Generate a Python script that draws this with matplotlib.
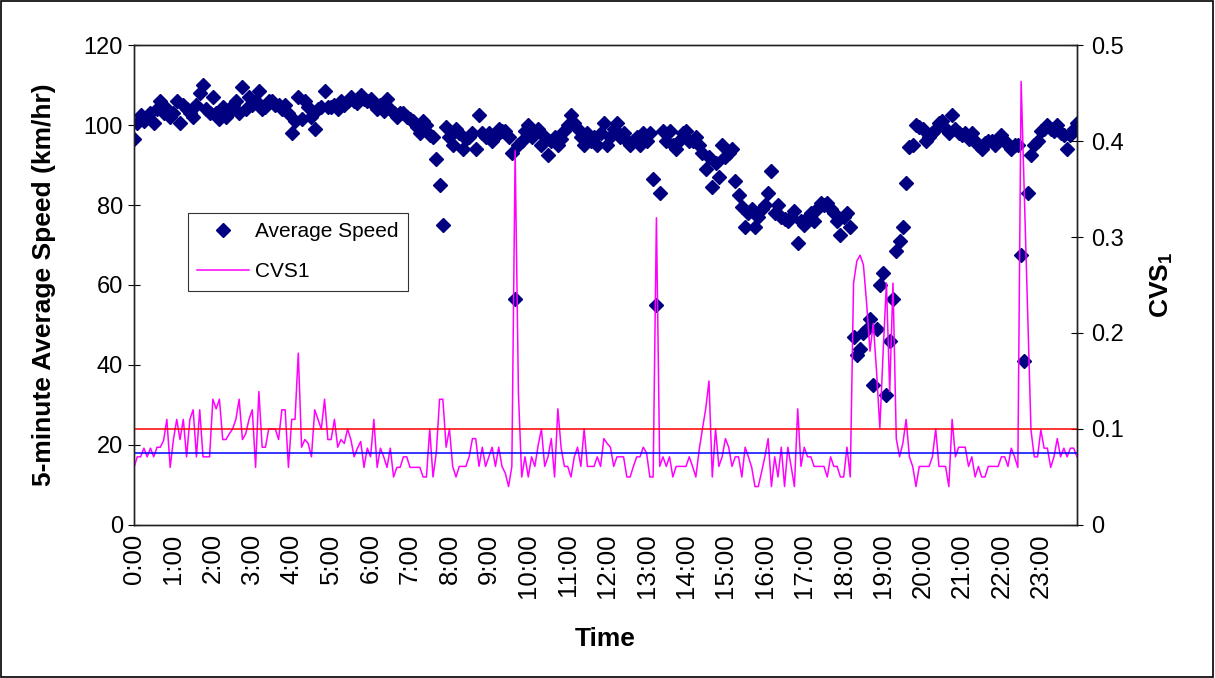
import matplotlib.pyplot as plt
import matplotlib.patches as mpatches
import numpy as np

# ============================================
# DATA (5-minute intervals, 0:00 - 23:55)
# ============================================

avg_speed = [
    96.5, 100.5, 102.5, 101, 102, 103, 100.5, 104, 106, 103, 104, 102,
    103, 106, 100.5, 105, 104, 103, 102, 105, 108, 110, 104, 103,
    107, 103, 101.5, 104.5, 102, 103, 105, 106, 103, 109.5, 104, 107,
    105, 106, 108.5, 104, 104.5, 106, 106, 105, 105, 104, 105, 103,
    98, 101, 107, 101.5, 106, 104.5, 102, 99, 104, 104.5, 108.5, 104.5,
    104.5, 105, 104, 106, 105, 106, 107, 106, 105.5, 107.5, 106.5, 106,
    106.5, 105, 104, 105, 103.5, 106.5, 104, 103, 102, 103, 103, 102,
    101.5, 101, 99.5, 98, 101, 100, 97.5, 97, 91.5, 85, 75, 99.5,
    97, 95, 99, 98, 94, 96.5, 97, 98, 94, 102.5, 98, 97,
    98, 96, 97, 99, 98.5, 98.5, 97, 93, 56.5, 95, 96, 98.5,
    100, 97, 98, 99, 95, 97, 92.5, 96, 97, 95, 96.5, 98.5,
    100, 102.5, 100.5, 99, 97, 95, 98, 96, 97, 95, 98, 100.5,
    95, 97, 99, 100.5, 97, 98, 96, 95, 96, 97, 95, 98,
    96, 98, 86.5, 55, 83, 98.5, 96, 98.5, 95, 94, 96, 98,
    98.5, 96, 96, 97, 95, 93, 89, 92, 84.5, 90.5, 87, 95,
    92, 93, 94, 86, 82.5, 79.5, 74.5, 78, 79, 74.5, 77, 79,
    80, 83, 88.5, 78, 80, 77, 76.5, 76, 77, 78.5, 70.5, 76,
    75, 77, 78, 76, 79, 80.5, 80, 80.5, 79, 78, 76, 72.5,
    77, 78, 74.5, 47, 42.5, 44, 48, 49, 51.5, 35, 49, 60,
    63, 32.5, 46, 56.5, 68.5, 71, 74.5, 85.5, 94.5, 95, 100, 99.5,
    99, 96, 97, 98, 99, 100.5, 101, 99, 98, 102.5, 99, 98,
    97.5, 98, 96.5, 98, 96, 95, 94, 95.5, 96, 96, 95, 96,
    97.5, 96, 95, 94, 95, 95, 67.5, 41, 83, 92.5, 95, 96,
    98.5, 99, 100, 99, 98.5, 100, 98, 97.5, 94, 97.5, 99, 100.5,
]

cvs1 = [
    0.060, 0.071, 0.071, 0.080, 0.071, 0.080, 0.071, 0.081, 0.081, 0.088, 0.110, 0.060,
    0.089, 0.110, 0.089, 0.110, 0.071, 0.110, 0.120, 0.071, 0.120, 0.071, 0.071, 0.071,
    0.131, 0.121, 0.131, 0.089, 0.089, 0.095, 0.100, 0.110, 0.131, 0.089, 0.095, 0.110,
    0.120, 0.060, 0.139, 0.081, 0.081, 0.100, 0.100, 0.100, 0.089, 0.120, 0.120, 0.060,
    0.110, 0.110, 0.179, 0.081, 0.089, 0.085, 0.071, 0.120, 0.110, 0.100, 0.131, 0.089,
    0.089, 0.110, 0.081, 0.089, 0.085, 0.100, 0.089, 0.071, 0.080, 0.087, 0.060, 0.080,
    0.071, 0.110, 0.060, 0.080, 0.071, 0.060, 0.080, 0.050, 0.060, 0.060, 0.071, 0.071,
    0.060, 0.060, 0.060, 0.060, 0.050, 0.050, 0.100, 0.050, 0.075, 0.131, 0.131, 0.081,
    0.100, 0.061, 0.050, 0.061, 0.061, 0.061, 0.071, 0.090, 0.090, 0.061, 0.081, 0.061,
    0.071, 0.081, 0.061, 0.081, 0.061, 0.054, 0.040, 0.061, 0.390, 0.137, 0.050, 0.071,
    0.050, 0.071, 0.061, 0.083, 0.100, 0.061, 0.071, 0.090, 0.050, 0.121, 0.080, 0.061,
    0.061, 0.050, 0.071, 0.081, 0.061, 0.100, 0.061, 0.061, 0.061, 0.071, 0.061, 0.090,
    0.085, 0.081, 0.061, 0.071, 0.071, 0.071, 0.050, 0.050, 0.061, 0.071, 0.071, 0.081,
    0.075, 0.050, 0.050, 0.320, 0.061, 0.071, 0.061, 0.071, 0.050, 0.061, 0.061, 0.061,
    0.061, 0.071, 0.061, 0.050, 0.078, 0.100, 0.121, 0.150, 0.050, 0.100, 0.061, 0.071,
    0.090, 0.081, 0.061, 0.071, 0.071, 0.050, 0.081, 0.071, 0.060, 0.040, 0.040, 0.055,
    0.071, 0.090, 0.040, 0.071, 0.050, 0.081, 0.040, 0.081, 0.061, 0.040, 0.121, 0.061,
    0.081, 0.071, 0.071, 0.061, 0.061, 0.061, 0.061, 0.050, 0.071, 0.061, 0.061, 0.050,
    0.050, 0.081, 0.050, 0.252, 0.275, 0.281, 0.271, 0.230, 0.181, 0.210, 0.160, 0.101,
    0.180, 0.252, 0.139, 0.252, 0.090, 0.071, 0.085, 0.110, 0.071, 0.061, 0.040, 0.061,
    0.061, 0.061, 0.061, 0.071, 0.100, 0.061, 0.061, 0.061, 0.040, 0.110, 0.071, 0.081,
    0.081, 0.081, 0.061, 0.071, 0.050, 0.061, 0.050, 0.050, 0.061, 0.061, 0.061, 0.061,
    0.071, 0.071, 0.061, 0.080, 0.071, 0.060, 0.462, 0.340, 0.220, 0.099, 0.071, 0.071,
    0.099, 0.080, 0.080, 0.060, 0.071, 0.090, 0.071, 0.080, 0.071, 0.080, 0.080, 0.071,
]

hour_labels = [f'{h}:00' for h in range(24)]

upper_threshold = 0.1
lower_threshold = 0.075

x = np.arange(len(avg_speed))

# ============================================
# CHART
# ============================================

plt.rcParams['font.family'] = ['Liberation Sans', 'DejaVu Sans']
plt.rcParams['mathtext.fontset'] = 'custom'
plt.rcParams['mathtext.rm'] = 'Liberation Sans'

fig = plt.figure(figsize=(12.15, 6.78), dpi=100)
ax = fig.add_axes([0.1103, 0.2257, 0.7761, 0.7079])

ax.plot(x, avg_speed, linestyle='none', marker='D', markersize=7,
        color='#000080', label='Average Speed')

ax.set_xlim(0, len(avg_speed) - 1)
ax.set_ylim(0, 120)
ax.set_yticks(range(0, 121, 20))
ax.set_xticks(x[::12])
ax.set_xticklabels(hour_labels, rotation=90, fontsize=18.5)
ax.tick_params(axis='x', length=0, pad=6)
ax.tick_params(axis='y', direction='inout', length=8, labelsize=17, pad=4)
ax.set_ylabel('5-minute Average Speed (km/hr)', fontsize=19, fontweight='bold', labelpad=20)
ax.set_xlabel('Time', fontsize=19, fontweight='bold', labelpad=21)

# second axis for CVS1
ax2 = ax.twinx()
ax2.plot(x, cvs1, color='#FF00FF', linewidth=1.1, label='CVS1')
ax2.axhline(upper_threshold, color='#FF0000', linewidth=1.1)
ax2.axhline(lower_threshold, color='#0000FF', linewidth=1.1)
ax2.set_ylim(0, 0.5)
ax2.set_yticks([0, 0.1, 0.2, 0.3, 0.4, 0.5])
ax2.set_yticklabels(['0', '0.1', '0.2', '0.3', '0.4', '0.5'])
ax2.tick_params(axis='y', direction='inout', length=8, labelsize=17, pad=6)
ax2.set_ylabel(r'CVS$_\mathregular{1}$', fontsize=19, fontweight='bold', labelpad=18)

for a in (ax, ax2):
    for s in a.spines.values():
        s.set_color('#222222')
        s.set_linewidth(1.0)

# legend
h1, l1 = ax.get_legend_handles_labels()
h2, l2 = ax2.get_legend_handles_labels()
leg = ax2.legend(h1 + h2, l1 + l2, loc='upper left', bbox_to_anchor=(0.057, 0.65),
                 fontsize=15, frameon=True, fancybox=False, borderpad=0.45,
                 labelspacing=1.0, handlelength=2.5, handletextpad=0.3,
                 borderaxespad=0)
leg.get_frame().set_edgecolor('black')
leg.get_frame().set_linewidth(0.8)

# outer chart border
fig.patches.append(mpatches.Rectangle((0.001, 0.002), 0.997, 0.996, transform=fig.transFigure,
                                      fill=False, edgecolor='black', linewidth=1.2))

plt.savefig('out.png', dpi=100)
plt.close()
